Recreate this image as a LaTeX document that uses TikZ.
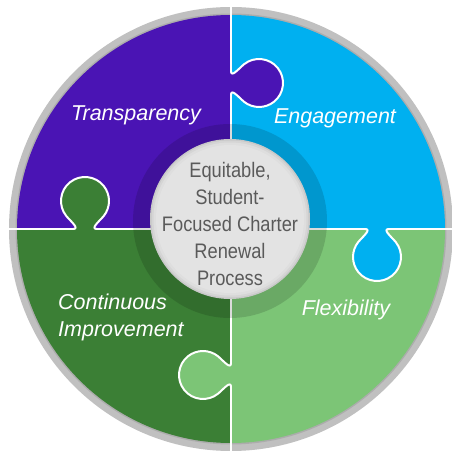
\documentclass[tikz,border=0pt]{standalone}
\usepackage{fontspec}
\setmainfont{Liberation Sans}
\newfontfamily\narrowfont[FakeStretch=0.87]{Liberation Sans}
\definecolor{cpurple}{HTML}{4A14B4}
\definecolor{cblue}{HTML}{00B0F0}
\definecolor{cdgreen}{HTML}{3B7F35}
\definecolor{clgreen}{HTML}{7CC576}
\definecolor{cring}{HTML}{C0C0C0}
\definecolor{cringdark}{HTML}{A0A0A0}
\definecolor{ctext}{HTML}{5A5A5A}
\definecolor{disc1}{HTML}{C8C8C8}
\definecolor{disc2}{HTML}{D5D5D5}
\definecolor{disc3}{HTML}{DEDEDE}
\definecolor{disc4}{HTML}{E3E3E3}
\tikzset{
  cutline/.style={white, line width=2pt, line cap=round, line join=round},
  lbl/.style={text=white, font=\fontsize{21.5}{27}\selectfont\itshape, inner sep=0pt},
}
\begin{document}
\begin{tikzpicture}[x=1pt,y=1pt]
\useasboundingbox (-231,-225) rectangle (220,229);
\fill[white] (-231,-225) rectangle (220,229);
% outer ring
\fill[cring] (0,0) circle[radius=222];
\draw[cringdark, line width=2pt, opacity=0.6] (0,0) circle[radius=214.5];
% quadrants
\fill[cpurple] (0,0) -- (-214,0) arc[start angle=180,end angle=90,radius=214] -- cycle;
\fill[cblue] (0,0) -- (0,214) arc[start angle=90,end angle=0,radius=214] -- cycle;
\fill[clgreen] (0,0) -- (214,0) arc[start angle=0,end angle=-90,radius=214] -- cycle;
\fill[cdgreen] (0,0) -- (0,-214) arc[start angle=-90,end angle=-180,radius=214] -- cycle;
% knobs and cut lines
\foreach \ang/\col in {0/cpurple,-90/cblue,-180/clgreen,-270/cdgreen}{
  \begin{scope}[rotate=\ang]
    \begin{scope}[shift={(0,146)}, rotate=-90]
      \fill[\col] (-12,-1) -- (-12,0) .. controls (-5,0) and (-14,7.5) .. (-18.65,12.9)
        arc[start angle=219,end angle=-39,radius=24]
        .. controls (14,7.5) and (5,0) .. (12,0) -- (12,-1) -- cycle;
      \draw[cutline] (-12,0) .. controls (-5,0) and (-14,7.5) .. (-18.65,12.9)
        arc[start angle=219,end angle=-39,radius=24]
        .. controls (14,7.5) and (5,0) .. (12,0);
    \end{scope}
    \draw[cutline] (0,0) -- (0,134);
    \draw[cutline] (0,158) -- (0,223);
  \end{scope}
}
% dark translucent ring and centre disc
\fill[black, opacity=0.14] (-1,8) circle[radius=97];
\fill[disc1] (-1,10) circle[radius=80];
\fill[disc2] (-1,10) circle[radius=78.5];
\fill[disc3] (-1,10) circle[radius=76.5];
\fill[disc4] (-1,10) circle[radius=74];
% labels
\node[lbl] (transp) at (-95,114) {Transparency};
\node[lbl] (engage) at (104,111) {Engagement};
\node[lbl, anchor=west, align=left] (contimp) at (-173,-88) {Continuous\\Improvement};
\node[lbl] (flex) at (115,-81) {Flexibility};
\node[text=ctext, align=center, inner sep=0pt,
      font=\narrowfont\fontsize{21}{27}\selectfont] (centre) at (-1,5)
      {Equitable,\\Student-\\Focused Charter\\Renewal\\Process};
\end{tikzpicture}
\end{document}
